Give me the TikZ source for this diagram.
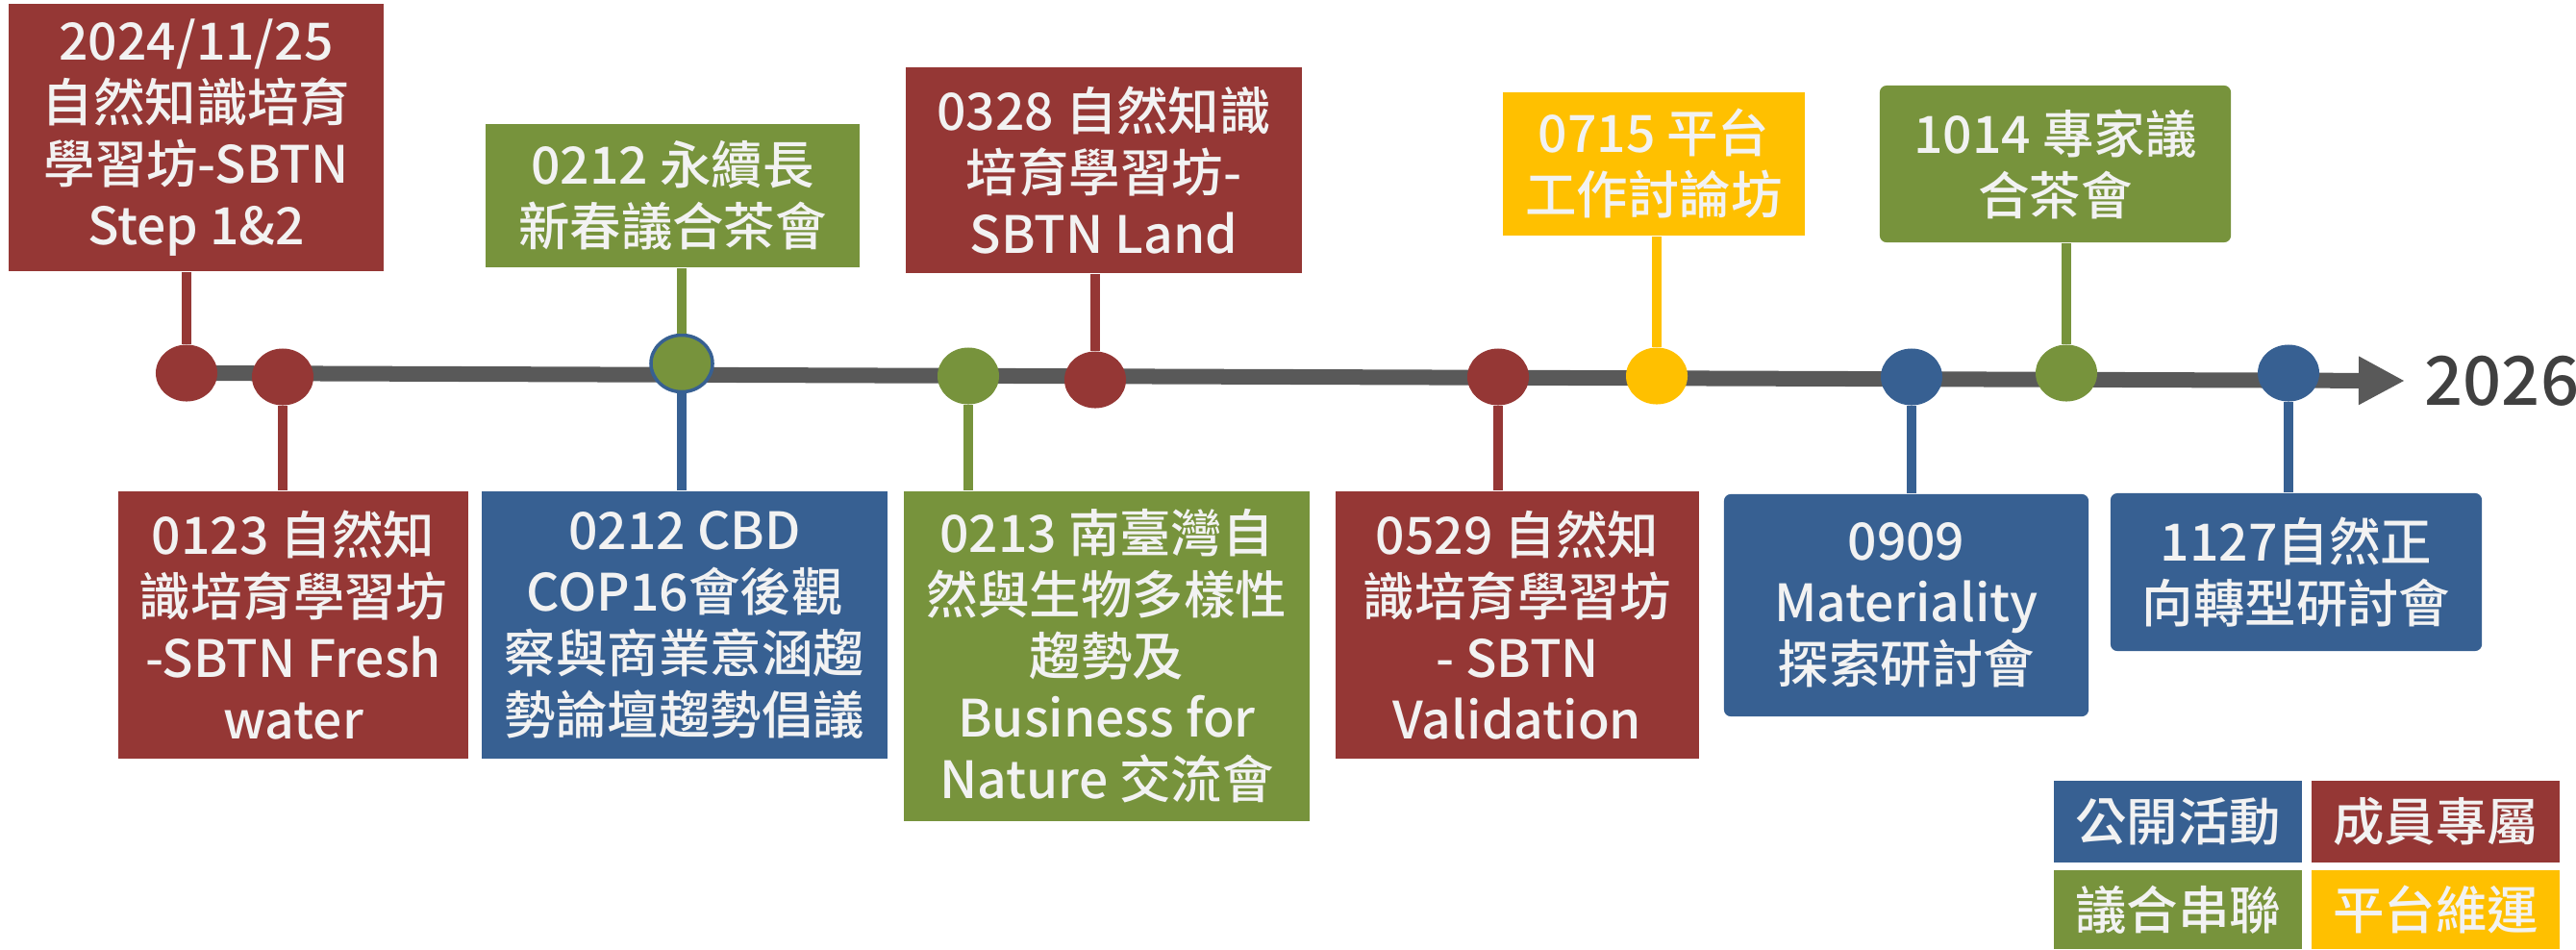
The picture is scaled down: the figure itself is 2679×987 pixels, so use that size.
\documentclass[tikz,border=0pt]{standalone}
\usepackage{fontspec}
\setmainfont{Noto Sans CJK TC Medium}
\usetikzlibrary{arrows.meta, positioning, shapes.geometric}

\definecolor{evred}{HTML}{953735}
\definecolor{evblue}{HTML}{376092}
\definecolor{evgreen}{HTML}{77933C}
\definecolor{evyellow}{HTML}{FFC000}
\definecolor{lineGray}{HTML}{595959}
\definecolor{yearGray}{HTML}{404040}
\definecolor{boxText}{HTML}{F2F2F2}

\begin{document}
\begin{tikzpicture}[x=0.01cm, y=-0.01cm,
		box/.style={fill=#1, text=boxText, align=center, inner sep=0pt,
			font=\fontsize{15.2}{18.2}\selectfont},
		dot/.style={ellipse, fill=#1, minimum width=0.64cm, minimum height=0.59cm, inner sep=0pt},
		stem/.style={draw=#1, line width=0.1cm},
		key/.style={box=#1, minimum width=2.58cm}]
		\useasboundingbox (0, 0) rectangle (2679, 987);

		% timeline
		\coordinate (tl start) at (194, 388);
		\coordinate (tl end) at (2501, 396);
		\draw[lineGray, line width=0.16cm, -{Triangle[length=0.48cm, width=0.47cm]}] (tl start) -- (tl end);
		\node[right=0.2cm of tl end, inner sep=0pt, text=yearGray, font=\fontsize{20}{24}\selectfont] (year) {2026};

		% dots on the timeline
		\node[dot=evred] (d1125) at (194, 388) {};
		\node[dot=evred] (d0123) at (294, 392) {};
		\node[dot=evgreen, draw=evblue, line width=1pt] (d0212) at (709, 378) {};
		\node[dot=evgreen] (d0213) at (1007, 391) {};
		\node[dot=evred] (d0328) at (1139, 395) {};
		\node[dot=evred] (d0529) at (1558, 392) {};
		\node[dot=evyellow] (d0715) at (1723, 391) {};
		\node[dot=evblue] (d0909) at (1988, 392) {};
		\node[dot=evgreen] (d1014) at (2149, 388) {};
		\node[dot=evblue] (d1127) at (2380, 388) {};

		% events above
		\node[box=evred, minimum width=3.90cm, minimum height=2.78cm] (b1125) at (204, 143)
			{2024/11/25\\自然知識培育\\學習坊-SBTN\\Step 1\&2};
		\node[box=evgreen, minimum width=3.89cm, minimum height=1.49cm] (b0212a) at (699.5, 203.5)
			{0212 永續長\\新春議合茶會};
		\node[box=evred, minimum width=4.12cm, minimum height=2.14cm] (b0328) at (1148, 177)
			{0328 自然知識\\培育學習坊-\\SBTN Land};
		\node[box=evyellow, minimum width=3.14cm, minimum height=1.49cm] (b0715) at (1720, 170.5)
			{0715 平台\\工作討論坊};
		\node[box=evgreen, rounded corners=2pt, minimum width=3.65cm, minimum height=1.63cm] (b1014) at (2137.5, 170.5)
			{1014 專家議\\合茶會};

		% events below
		\node[box=evred, minimum width=3.64cm, minimum height=2.78cm] (b0123) at (305, 650)
			{0123 自然知\\識培育學習坊\\-SBTN Fresh\\water};
		\node[box=evblue, minimum width=4.22cm, minimum height=2.78cm] (b0212b) at (712, 650)
			{0212 CBD\\COP16會後觀\\察與商業意涵趨\\勢論壇趨勢倡議};
		\node[box=evgreen, minimum width=4.22cm, minimum height=3.43cm] (b0213) at (1151, 682.5)
			{0213 南臺灣自\\然與生物多樣性\\趨勢及\\Business for\\Nature 交流會};
		\node[box=evred, minimum width=3.78cm, minimum height=2.78cm] (b0529) at (1578, 650)
			{0529 自然知\\識培育學習坊\\- SBTN\\Validation};
		\node[box=evblue, rounded corners=2pt, minimum width=3.79cm, minimum height=2.31cm] (b0909) at (1982.5, 629.5)
			{0909\\Materiality\\探索研討會};
		\node[box=evblue, rounded corners=2pt, minimum width=3.86cm, minimum height=1.64cm] (b1127) at (2388, 595)
			{1127自然正\\向轉型研討會};

		% stems
		\draw[stem=evred] (d1125.north) -- (d1125.north |- b1125.south);
		\draw[stem=evred] (d0123.south) -- (d0123.south |- b0123.north);
		\draw[stem=evgreen] (d0212.north) -- (d0212.north |- b0212a.south);
		\draw[stem=evblue] (d0212.south) -- (d0212.south |- b0212b.north);
		\draw[stem=evgreen] (d0213.south) -- (d0213.south |- b0213.north);
		\draw[stem=evred] (d0328.north) -- (d0328.north |- b0328.south);
		\draw[stem=evred] (d0529.south) -- (d0529.south |- b0529.north);
		\draw[stem=evyellow] (d0715.north) -- (d0715.north |- b0715.south);
		\draw[stem=evblue] (d0909.south) -- (d0909.south |- b0909.north);
		\draw[stem=evgreen] (d1014.north) -- (d1014.north |- b1014.south);
		\draw[stem=evblue] (d1127.south) -- (d1127.south |- b1127.north);

		% legend
		\node[key=evblue, minimum height=0.85cm] (k public) at (2265, 854.5) {公開活動};
		\node[key=evred, minimum height=0.85cm] (k member) at (2533, 854.5) {成員專屬};
		\node[key=evgreen, minimum height=0.82cm] (k engage) at (2265, 946) {議合串聯};
		\node[key=evyellow, minimum height=0.82cm] (k platform) at (2533, 946) {平台維運};
	\end{tikzpicture}
\end{document}
